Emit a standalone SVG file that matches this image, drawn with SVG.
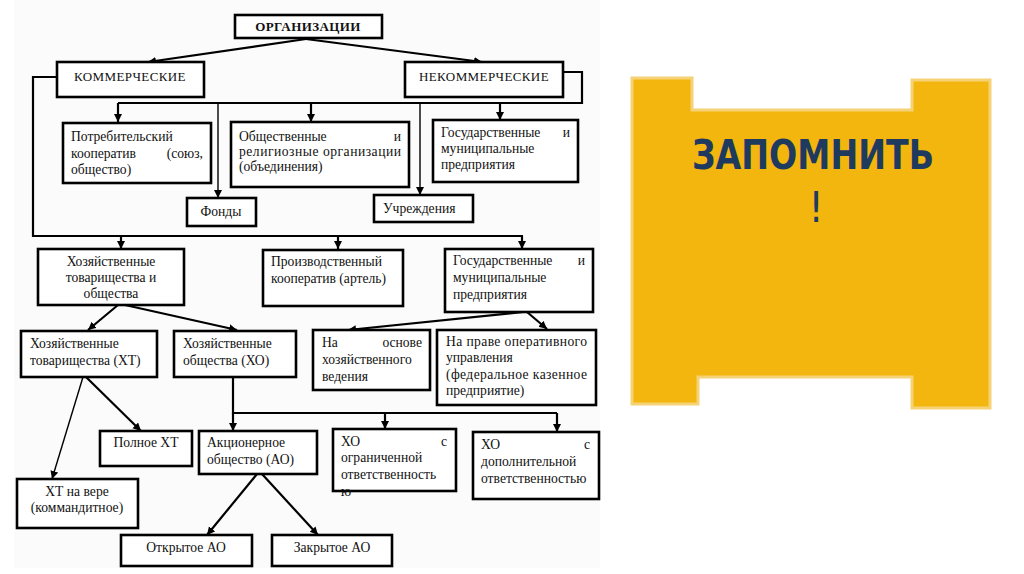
<svg xmlns="http://www.w3.org/2000/svg" width="1024" height="574" viewBox="0 0 1024 574">
<defs>
<marker id="ah" markerUnits="userSpaceOnUse" markerWidth="10" markerHeight="10" refX="8" refY="4" orient="auto">
<path d="M0,0 L8,4 L0,8 Z" fill="#000"/>
</marker>
<style>
.b{fill:#fff;stroke:#000;stroke-width:2.6}
.t{font-family:"Liberation Serif","Times New Roman",serif;font-size:13.6px;fill:#111}
.c{text-anchor:middle}
.r{text-anchor:end}
.l{fill:none;stroke:#000;stroke-width:2.2}
.n{fill:none;stroke:#000;stroke-width:1.4}
</style>
</defs>
<rect x="0" y="0" width="1024" height="574" fill="#fff"/>
<rect x="14" y="0" width="586" height="568" fill="#fbfbfb"/>

<g id="connectors">
<line class="l" x1="306" y1="39" x2="148" y2="62" marker-end="url(#ah)"/>
<line class="l" x1="306" y1="39" x2="482" y2="62" marker-end="url(#ah)"/>
<polyline class="l" points="57,77 33,77 33,236 523,236"/>
<line class="l" x1="121" y1="236" x2="121" y2="249" marker-end="url(#ah)"/>
<line class="l" x1="338" y1="236" x2="338" y2="249" marker-end="url(#ah)"/>
<line class="l" x1="522" y1="236" x2="522" y2="249" marker-end="url(#ah)"/>
<polyline class="l" points="563,72 582,72 582,103 118,103"/>
<line class="l" x1="118" y1="103" x2="118" y2="122" marker-end="url(#ah)"/>
<line class="l" x1="311" y1="103" x2="311" y2="122" marker-end="url(#ah)"/>
<line class="l" x1="500" y1="103" x2="500" y2="120" marker-end="url(#ah)"/>
<line class="n" x1="218" y1="103" x2="218" y2="198" marker-end="url(#ah)"/>
<line class="n" x1="420" y1="103" x2="420" y2="195" marker-end="url(#ah)"/>
<line class="l" x1="118" y1="305" x2="88" y2="330" marker-end="url(#ah)"/>
<line class="l" x1="125" y1="305" x2="237" y2="330" marker-end="url(#ah)"/>
<line class="l" x1="523" y1="312" x2="348" y2="330" marker-end="url(#ah)"/>
<line class="l" x1="527" y1="312" x2="547" y2="329" marker-end="url(#ah)"/>
<polyline class="l" points="233,377 233,413 557,413"/>
<line class="l" x1="233" y1="413" x2="233" y2="431" marker-end="url(#ah)"/>
<line class="l" x1="385" y1="413" x2="385" y2="429" marker-end="url(#ah)"/>
<line class="l" x1="557" y1="413" x2="557" y2="432" marker-end="url(#ah)"/>
<line class="n" x1="83" y1="377" x2="52" y2="479" marker-end="url(#ah)"/>
<line class="l" x1="86" y1="377" x2="141" y2="431" marker-end="url(#ah)"/>
<line class="l" x1="257" y1="474" x2="207" y2="535" marker-end="url(#ah)"/>
<line class="l" x1="262" y1="474" x2="318" y2="535" marker-end="url(#ah)"/>
</g>

<g id="org"><rect class="b" x="235" y="15" width="147" height="23"/>
<text class="t c" x="308" y="31" font-weight="bold" letter-spacing="0.4" style="font-size:13px">ОРГАНИЗАЦИИ</text></g>

<g id="kom"><rect class="b" x="57" y="62" width="147" height="35"/>
<text class="t c" x="130" y="81" letter-spacing="0.4" style="font-size:13px">КОММЕРЧЕСКИЕ</text></g>

<g id="nekom"><rect class="b" x="405" y="62" width="158" height="35"/>
<text class="t c" x="484" y="81" letter-spacing="0.4" style="font-size:13px">НЕКОММЕРЧЕСКИЕ</text></g>

<g id="potreb"><rect class="b" x="63" y="123" width="148" height="60"/>
<text class="t" x="71" y="141">Потребительский</text>
<text class="t" x="71" y="158">кооператив</text><text class="t r" x="203" y="158">(союз,</text>
<text class="t" x="71" y="174">общество)</text></g>

<g id="obsh"><rect class="b" x="231" y="122" width="178" height="65"/>
<text class="t" x="239" y="141">Общественные</text><text class="t r" x="401" y="141">и</text>
<text class="t" x="239" y="156" textLength="162" lengthAdjust="spacing">религиозные организации</text>
<text class="t" x="239" y="171">(объединения)</text></g>

<g id="gos1"><rect class="b" x="433" y="120" width="145" height="62"/>
<text class="t" x="441" y="137">Государственные</text><text class="t r" x="570" y="137">и</text>
<text class="t" x="441" y="153">муниципальные</text>
<text class="t" x="441" y="169">предприятия</text></g>

<g id="fondy"><rect class="b" x="187" y="198" width="69" height="28"/>
<text class="t c" x="221" y="216">Фонды</text></g>

<g id="uchr"><rect class="b" x="374" y="195" width="99" height="27"/>
<text class="t" x="383" y="213">Учреждения</text></g>

<g id="hto"><rect class="b" x="38" y="249" width="146" height="56"/>
<text class="t c" x="111" y="266">Хозяйственные</text>
<text class="t c" x="111" y="282">товарищества и</text>
<text class="t c" x="111" y="298">общества</text></g>

<g id="proizv"><rect class="b" x="263" y="250" width="140" height="56"/>
<text class="t" x="271" y="266">Производственный</text>
<text class="t" x="271" y="283">кооператив (артель)</text></g>

<g id="gos2"><rect class="b" x="445" y="249" width="148" height="63"/>
<text class="t" x="453" y="265">Государственные</text><text class="t r" x="585" y="265">и</text>
<text class="t" x="453" y="282">муниципальные</text>
<text class="t" x="453" y="299">предприятия</text></g>

<g id="ht"><rect class="b" x="21" y="331" width="136" height="46"/>
<text class="t" x="30" y="348">Хозяйственные</text>
<text class="t" x="30" y="365">товарищества (ХТ)</text></g>

<g id="ho"><rect class="b" x="174" y="331" width="122" height="46"/>
<text class="t" x="183" y="348">Хозяйственные</text>
<text class="t" x="183" y="365">общества (ХО)</text></g>

<g id="osnove"><rect class="b" x="313" y="330" width="117" height="60"/>
<text class="t" x="322" y="347">На</text><text class="t r" x="422" y="347">основе</text>
<text class="t" x="322" y="364">хозяйственного</text>
<text class="t" x="322" y="381">ведения</text></g>

<g id="prave"><rect class="b" x="437" y="330" width="159" height="75"/>
<text class="t" x="446" y="346" textLength="141" lengthAdjust="spacing">На праве оперативного</text>
<text class="t" x="446" y="362">управления</text>
<text class="t" x="446" y="379" textLength="141" lengthAdjust="spacing">(федеральное казенное</text>
<text class="t" x="446" y="395">предприятие)</text></g>

<g id="polnoe"><rect class="b" x="100" y="431" width="92" height="35"/>
<text class="t c" x="146" y="447">Полное ХТ</text></g>

<g id="ao"><rect class="b" x="199" y="431" width="118" height="43"/>
<text class="t" x="207" y="447">Акционерное</text>
<text class="t" x="207" y="464">общество (АО)</text></g>

<g id="hoogr"><rect class="b" x="333" y="429" width="123" height="62"/>
<text class="t" x="341" y="446">ХО</text><text class="t r" x="447" y="446">с</text>
<text class="t" x="341" y="462">ограниченной</text>
<text class="t" x="341" y="479">ответственность</text>
<text class="t" x="341" y="496">ю</text></g>

<g id="hodop"><rect class="b" x="473" y="432" width="126" height="67"/>
<text class="t" x="481" y="449">ХО</text><text class="t r" x="590" y="449">с</text>
<text class="t" x="481" y="466">дополнительной</text>
<text class="t" x="481" y="483">ответственностью</text></g>

<g id="htvere"><rect class="b" x="17" y="479" width="121" height="49"/>
<text class="t c" x="77" y="496">ХТ на вере</text>
<text class="t c" x="77" y="512">(коммандитное)</text></g>

<g id="otkr"><rect class="b" x="121" y="535" width="131" height="31"/>
<text class="t c" x="186" y="552">Открытое АО</text></g>

<g id="zakr"><rect class="b" x="272" y="535" width="120" height="31"/>
<text class="t c" x="332" y="552">Закрытое АО</text></g>

<g id="note">
<path d="M632,78 H692 V110 H912 V80 H990 V408 H912 V377 H698 V404 H632 Z" fill="#F2B60F" stroke="#F6D277" stroke-width="3"/>
<text x="813" y="169" text-anchor="middle" font-family="'DejaVu Sans Condensed','DejaVu Sans',sans-serif" font-weight="bold" font-size="40" fill="#1E3A5F" textLength="242" lengthAdjust="spacingAndGlyphs">ЗАПОМНИТЬ</text>
<text x="816" y="222" text-anchor="middle" font-family="'DejaVu Sans Condensed','DejaVu Sans',sans-serif" font-size="42" fill="#1E3A5F">!</text>
</g>
</svg>
